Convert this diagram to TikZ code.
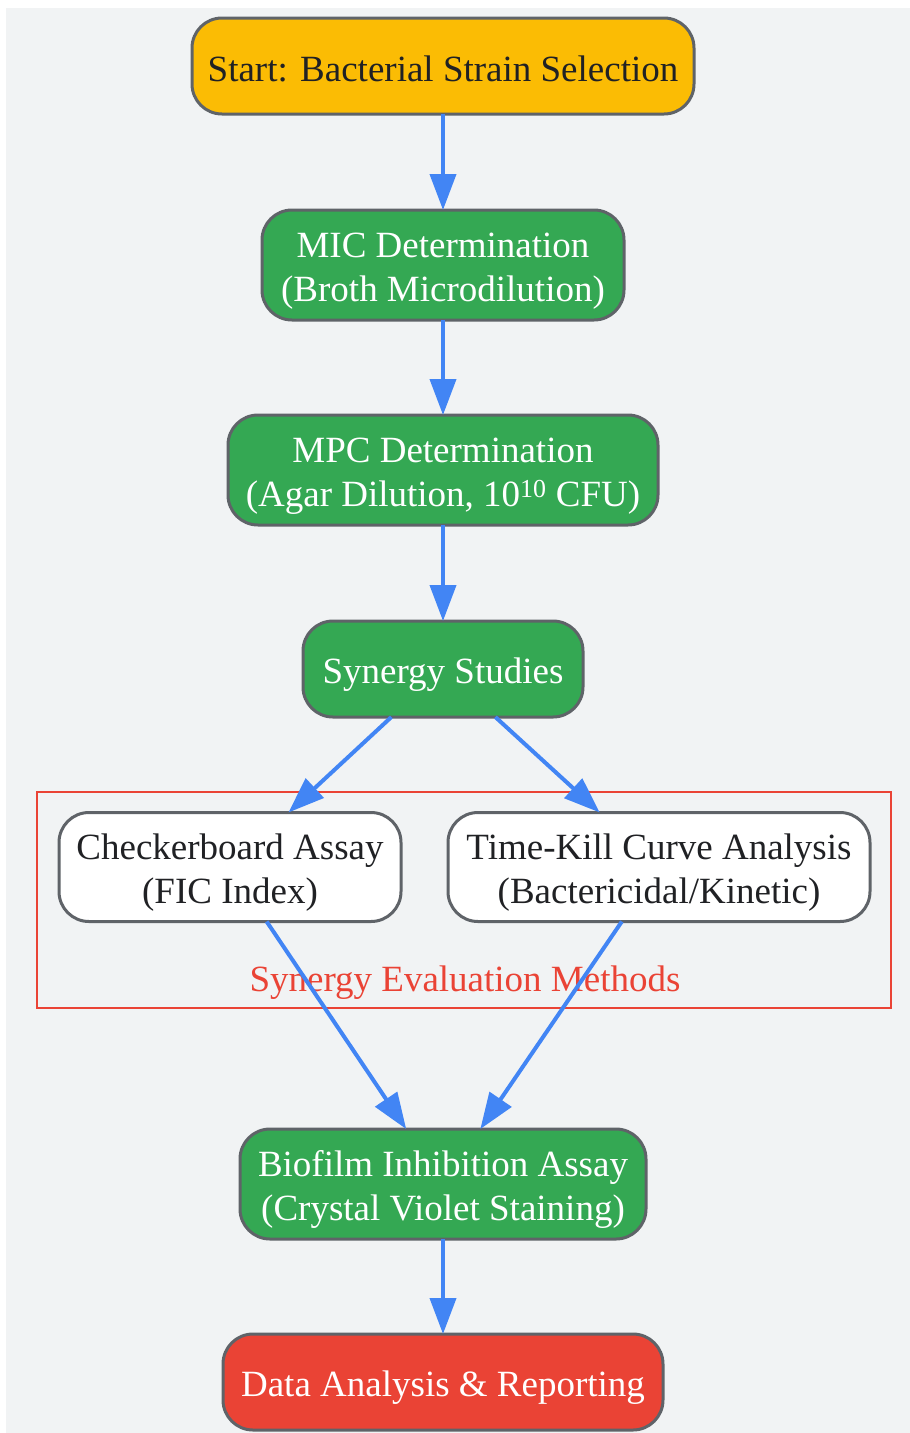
\documentclass[tikz,border=0pt]{standalone}
\usepackage{fontspec}
\setmainfont{Liberation Serif}
\usetikzlibrary{arrows.meta}
\definecolor{bg}{HTML}{F1F3F4}
\definecolor{bordergray}{HTML}{5F6368}
\definecolor{gyellow}{HTML}{FBBC04}
\definecolor{ggreen}{HTML}{34A853}
\definecolor{gred}{HTML}{EA4335}
\definecolor{gblue}{HTML}{4285F4}
\definecolor{gtext}{HTML}{202124}
\newcommand\liftrule[1]{\rule{0pt}{#1}}
\tikzset{
  box/.style={draw=bordergray, line width=3pt, rounded corners=30pt, align=center,
    inner sep=0pt, outer sep=0pt, font=\fontsize{37}{44}\selectfont},
  startbox/.style={box, fill=gyellow, text=gtext},
  greenbox/.style={box, fill=ggreen, text=white},
  whitebox/.style={box, fill=white, text=gtext},
  redbox/.style={box, fill=gred, text=white},
  flow/.style={draw=gblue, line width=4pt, -{Triangle[length=36pt,width=26pt]}},
  cluster/.style={draw=gred, line width=2pt}
}
\begin{document}
\begin{tikzpicture}[x=1pt,y=-1pt]
\useasboundingbox (0,0) rectangle (910,1433);
\fill[bg] (6,8) rectangle (910,1433);
% cluster
\draw[cluster] (37,792) rectangle (891,1008);
\node[text=gred, font=\fontsize{37}{44}\selectfont, anchor=base] (clabel) at (465,991) {Synergy Evaluation Methods};
% nodes
\node[startbox, minimum width=502pt, minimum height=96pt] (start) at (443,66) {\liftrule{31pt}Start: Bacterial Strain Selection};
\node[greenbox, minimum width=362pt, minimum height=110pt] (mic) at (443,265) {\liftrule{37pt}MIC Determination\\(Broth Microdilution)};
\node[greenbox, minimum width=430pt, minimum height=110pt] (mpc) at (443,470) {\liftrule{37pt}MPC Determination\\(Agar Dilution, 10\textsuperscript{10} CFU)};
\node[greenbox, minimum width=280pt, minimum height=96pt] (syn) at (443,669) {\liftrule{37pt}Synergy Studies};
\node[whitebox, minimum width=342pt, minimum height=109pt] (chk) at (230,867) {\liftrule{37pt}Checkerboard Assay\\(FIC Index)};
\node[whitebox, minimum width=422pt, minimum height=109pt] (tk) at (659,867) {\liftrule{37pt}Time-Kill Curve Analysis\\(Bactericidal/Kinetic)};
\node[greenbox, minimum width=406pt, minimum height=110pt] (bio) at (443,1184) {\liftrule{37pt}Biofilm Inhibition Assay\\(Crystal Violet Staining)};
\node[redbox, minimum width=440pt, minimum height=96pt] (data) at (443,1382) {\liftrule{37pt}Data Analysis \& Reporting};
% edges
\draw[flow] (start) -- (mic);
\draw[flow] (mic) -- (mpc);
\draw[flow] (mpc) -- (syn);
\draw[flow] (syn) -- (chk);
\draw[flow] (syn) -- (tk);
\draw[flow] (chk) -- (bio);
\draw[flow] (tk) -- (bio);
\draw[flow] (bio) -- (data);
\end{tikzpicture}
\end{document}
